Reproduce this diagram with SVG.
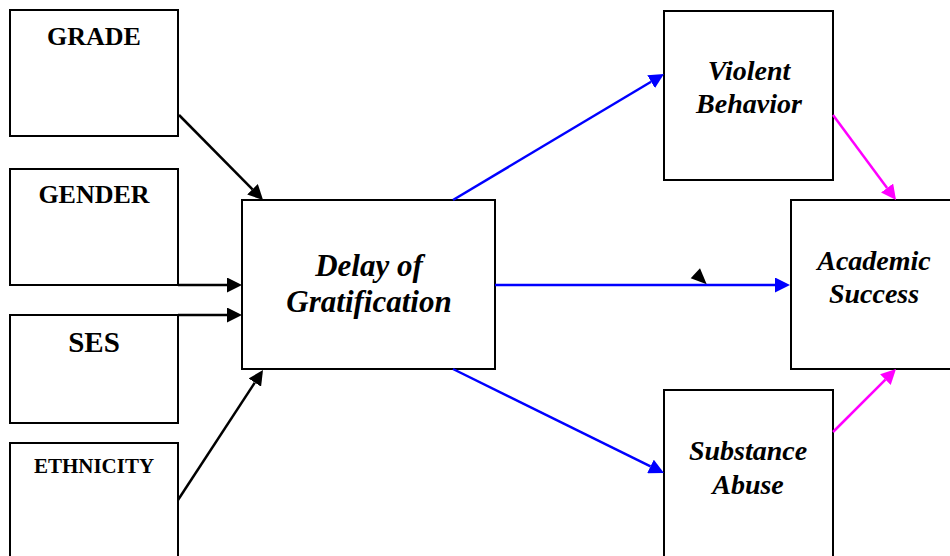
<svg xmlns="http://www.w3.org/2000/svg" width="950" height="556" viewBox="0 0 950 556">
  <style>
    .box { fill: #fff; stroke: #000; stroke-width: 2; }
    .lbl { font-family: "Liberation Serif", "Times New Roman", serif; font-weight: bold; fill: #000; text-anchor: middle; }
    .it { font-style: italic; }
    .blk { stroke: #000; stroke-width: 2.5; fill: none; }
    .blu { stroke: #0000ff; stroke-width: 2.5; fill: none; }
    .mag { stroke: #ff00ff; stroke-width: 2.5; fill: none; }
  </style>
  <defs>
    <marker id="headBlack" viewBox="0 0 15 15" refX="0" refY="7.5" markerWidth="15" markerHeight="15" markerUnits="userSpaceOnUse" orient="auto">
      <path d="M0,0 L15,7.5 L0,15 z" fill="#000"/>
    </marker>
    <marker id="headBlue" viewBox="0 0 15 15" refX="0" refY="7.5" markerWidth="15" markerHeight="15" markerUnits="userSpaceOnUse" orient="auto">
      <path d="M0,0 L15,7.5 L0,15 z" fill="#0000ff"/>
    </marker>
    <marker id="headMagenta" viewBox="0 0 15 15" refX="0" refY="7.5" markerWidth="15" markerHeight="15" markerUnits="userSpaceOnUse" orient="auto">
      <path d="M0,0 L15,7.5 L0,15 z" fill="#ff00ff"/>
    </marker>
  </defs>
  <rect width="950" height="556" fill="#fff"/>

  <g id="grade">
    <rect class="box" x="10" y="10" width="168" height="126"/>
    <text class="lbl" x="94" y="45" font-size="26">GRADE</text>
  </g>
  <g id="gender">
    <rect class="box" x="10" y="169" width="168" height="116"/>
    <text class="lbl" x="94" y="203" font-size="26">GENDER</text>
  </g>
  <g id="ses">
    <rect class="box" x="10" y="315" width="168" height="108"/>
    <text class="lbl" x="94" y="352" font-size="29">SES</text>
  </g>
  <g id="ethnicity">
    <rect class="box" x="10" y="443" width="168" height="130"/>
    <text class="lbl" x="94" y="473" font-size="21">ETHNICITY</text>
  </g>
  <g id="delay">
    <rect class="box" x="242" y="200" width="253" height="169"/>
    <text class="lbl it" x="369" y="276" font-size="31">Delay of</text>
    <text class="lbl it" x="369" y="312" font-size="31">Gratification</text>
  </g>
  <g id="violent">
    <rect class="box" x="664" y="11" width="169" height="169"/>
    <text class="lbl it" x="749" y="80" font-size="28">Violent</text>
    <text class="lbl it" x="749" y="113" font-size="28">Behavior</text>
  </g>
  <g id="academic">
    <rect class="box" x="791" y="200" width="170" height="169"/>
    <text class="lbl it" x="874" y="270" font-size="28">Academic</text>
    <text class="lbl it" x="874" y="303" font-size="28">Success</text>
  </g>
  <g id="substance">
    <rect class="box" x="664" y="390" width="169" height="180"/>
    <text class="lbl it" x="748" y="460" font-size="28">Substance</text>
    <text class="lbl it" x="748" y="494" font-size="28">Abuse</text>
  </g>

  <g id="connectors">
    <line class="blk" x1="179" y1="115" x2="252.5" y2="189.3" marker-end="url(#headBlack)"/>
    <line class="blk" x1="178" y1="285" x2="227" y2="285" marker-end="url(#headBlack)"/>
    <line class="blk" x1="178" y1="315" x2="227" y2="315" marker-end="url(#headBlack)"/>
    <line class="blk" x1="178" y1="500" x2="254.8" y2="382.6" marker-end="url(#headBlack)"/>
    <line class="blu" x1="453" y1="200" x2="651.1" y2="81.7" marker-end="url(#headBlue)"/>
    <line class="blu" x1="495" y1="285" x2="775" y2="285" marker-end="url(#headBlue)"/>
    <line class="blu" x1="453" y1="369" x2="650.5" y2="466.4" marker-end="url(#headBlue)"/>
    <line class="mag" x1="833" y1="115" x2="887.1" y2="188" marker-end="url(#headMagenta)"/>
    <line class="mag" x1="833" y1="432" x2="885.4" y2="379.6" marker-end="url(#headMagenta)"/>
    <polygon points="690.7,278.3 700,268.3 706.7,284.3" fill="#000"/>
  </g>
</svg>
